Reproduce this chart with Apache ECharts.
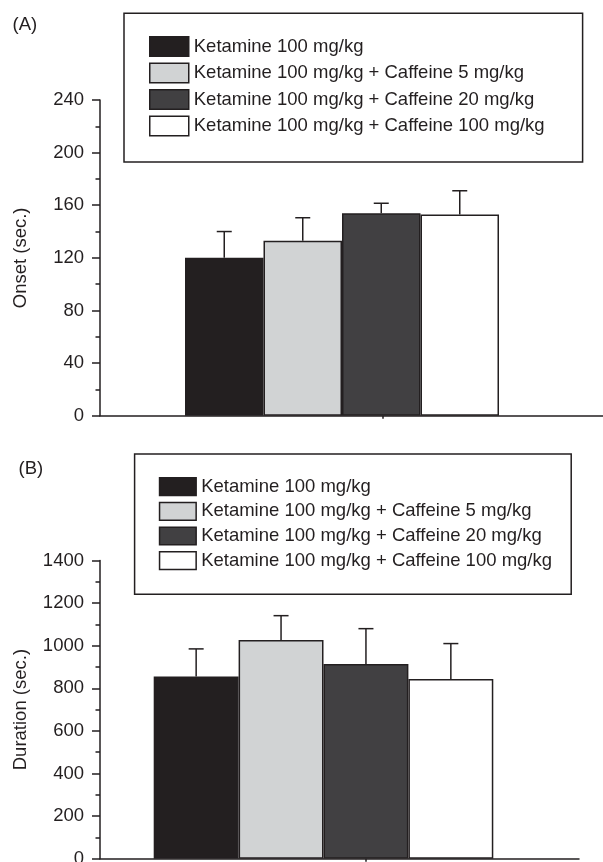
<!DOCTYPE html>
<html>
<head>
<meta charset="utf-8">
<script src="https://cdn.jsdelivr.net/npm/echarts@6/dist/echarts.min.js"></script>
<style>
html,body{margin:0;padding:0;background:#fff;}
#chart{width:603px;height:862px;}
</style>
</head>
<body>
<div id="chart"></div>
<script>
// ---- data ----
const categories = [''];
const seriesNames = [
  'Ketamine 100 mg/kg',
  'Ketamine 100 mg/kg + Caffeine 5 mg/kg',
  'Ketamine 100 mg/kg + Caffeine 20 mg/kg',
  'Ketamine 100 mg/kg + Caffeine 100 mg/kg'
];
const onsetMeans = [120, 133, 154, 153];
const onsetErrors = [20, 17.5, 7.5, 18];
const durationMeans = [855, 1027, 914, 844];
const durationErrors = [130, 114, 166, 166];
const onsetAxis = { min: 0, max: 240, interval: 40 };
const durationAxis = { min: 0, max: 1400, interval: 200 };
const panelLabels = ['(A)', '(B)'];
const yNames = ['Onset (sec.)', 'Duration (sec.)'];

// ---- style ----
const FONT = "'Liberation Sans', Arial, Helvetica, sans-serif";
const INK = '#231f20';
const barColors = ['#231f20', '#d1d3d4', '#414042', '#ffffff'];
const FS = 18.5;

function valueAxis(gridIndex, range, name, show) {
  if (!show) {
    return { gridIndex, type: 'value', min: range.min, max: range.max, interval: range.interval, show: false };
  }
  return {
    gridIndex, type: 'value', min: range.min, max: range.max, interval: range.interval,
    name, nameLocation: 'middle', nameGap: 70, nameRotate: 90,
    nameTextStyle: { fontSize: FS, color: INK, fontFamily: FONT },
    axisLine: { show: true, lineStyle: { color: INK, width: 1.5 } },
    axisTick: { show: true, inside: false, length: 8, lineStyle: { color: INK, width: 1.5 } },
    minorTick: { show: true, splitNumber: 2, length: 4.5, lineStyle: { color: INK, width: 1.5 } },
    splitLine: { show: false },
    axisLabel: { fontSize: FS, color: INK, fontFamily: FONT, margin: 16, formatter: v => String(v), hideOverlap: false }
  };
}
function catAxis(gridIndex, opts) {
  return Object.assign({
    gridIndex, type: 'category', data: categories,
    axisLine: { show: true, onZero: false, lineStyle: { color: INK, width: 1.5 } },
    axisTick: { show: false },
    axisLabel: { show: false },
    splitLine: { show: false }
  }, opts || {});
}

function errRender(params, api) {
  const cat = api.value(0), mean = api.value(1), err = api.value(2), idx = api.value(3);
  const base = api.coord([cat, mean]);
  const top = api.coord([cat, mean + err]);
  const bw = api.size([1, 0])[0];
  const n = seriesNames.length;
  const x = base[0] - bw / 2 + (idx + 0.5) * bw / n;
  const cap = 7.5;
  const st = { stroke: INK, lineWidth: 1.5 };
  return {
    type: 'group',
    children: [
      { type: 'line', shape: { x1: x, y1: base[1], x2: x, y2: top[1] }, style: st },
      { type: 'line', shape: { x1: x - cap, y1: top[1], x2: x + cap, y2: top[1] }, style: st }
    ]
  };
}

function barSeries(means, axisIdx) {
  return seriesNames.map((nm, i) => ({
    name: nm, type: 'bar', xAxisIndex: axisIdx, yAxisIndex: axisIdx,
    data: [means[i]],
    barGap: '0%', barCategoryGap: '0%',
    itemStyle: { color: barColors[i], borderColor: INK, borderWidth: 1.5 },
    emphasis: { disabled: true },
    animation: false
  }));
}
function errSeries(means, errs, axisIdx, nm) {
  return {
    name: nm, type: 'custom', xAxisIndex: axisIdx, yAxisIndex: axisIdx,
    renderItem: errRender,
    encode: { x: 0, y: 1 },
    data: means.map((m, i) => [0, m, errs[i], i]),
    z: 5, animation: false, silent: true
  };
}

const legendCommon = {
  orient: 'vertical', icon: 'rect', data: seriesNames,
  borderColor: INK, borderWidth: 1.5, backgroundColor: '#fff',
  itemStyle: { borderColor: INK, borderWidth: 1.5 },
  selectedMode: false
};

function grid(left, top, width, height) {
  return { left, top, width, height, containLabel: false, outerBoundsMode: 'none' };
}

const option = {
  backgroundColor: '#fff',
  animation: false,
  textStyle: { fontFamily: FONT },
  title: [
    { text: panelLabels[0], left: 12.5, top: 15, padding: 0, textStyle: { fontSize: FS, fontWeight: 'normal', color: INK, fontFamily: FONT } },
    { text: panelLabels[1], left: 18.5, top: 459, padding: 0, textStyle: { fontSize: FS, fontWeight: 'normal', color: INK, fontFamily: FONT } }
  ],
  legend: [
    Object.assign({}, legendCommon, {
      left: 124, top: 13.3, padding: [22.7, 38, 25.5, 25],
      itemWidth: 39, itemHeight: 19.5, itemGap: 5.5,
      textStyle: { fontSize: FS, color: INK, fontFamily: FONT, lineHeight: 19.5 }
    }),
    Object.assign({}, legendCommon, {
      left: 134.6, top: 454, padding: [23, 19.2, 24, 24.2],
      itemWidth: 36.6, itemHeight: 17.7, itemGap: 5.5,
      textStyle: { fontSize: FS, color: INK, fontFamily: FONT, lineHeight: 17.7 }
    })
  ],
  grid: [
    grid(100, 100, 565, 315.7),       // 0 top axes
    grid(185, 100, 314, 315.7),       // 1 top bars
    grid(100, 560.5, 479, 298.2),     // 2 bottom axes
    grid(153.7, 560.5, 339.6, 298.2), // 3 bottom bars
    grid(100, 560.5, 532, 298.2)      // 4 bottom tick
  ],
  xAxis: [
    catAxis(0, { axisTick: { show: true, alignWithLabel: true, length: 3, lineStyle: { color: INK, width: 1.5 } } }),
    catAxis(1, { show: false }),
    catAxis(2),
    catAxis(3, { show: false }),
    catAxis(4, { axisLine: { show: false }, axisTick: { show: true, alignWithLabel: true, length: 3, lineStyle: { color: INK, width: 1.5 } } })
  ],
  yAxis: [
    valueAxis(0, onsetAxis, yNames[0], true),
    valueAxis(1, onsetAxis, '', false),
    valueAxis(2, durationAxis, yNames[1], true),
    valueAxis(3, durationAxis, '', false),
    valueAxis(4, durationAxis, '', false)
  ],
  series: [].concat(
    barSeries(onsetMeans, 1),
    [errSeries(onsetMeans, onsetErrors, 1, 'onset error')],
    barSeries(durationMeans, 3),
    [errSeries(durationMeans, durationErrors, 3, 'duration error')]
  )
};

const chart = echarts.init(document.getElementById('chart'), null, { renderer: 'canvas' });
chart.setOption(option);
</script>
</body>
</html>
